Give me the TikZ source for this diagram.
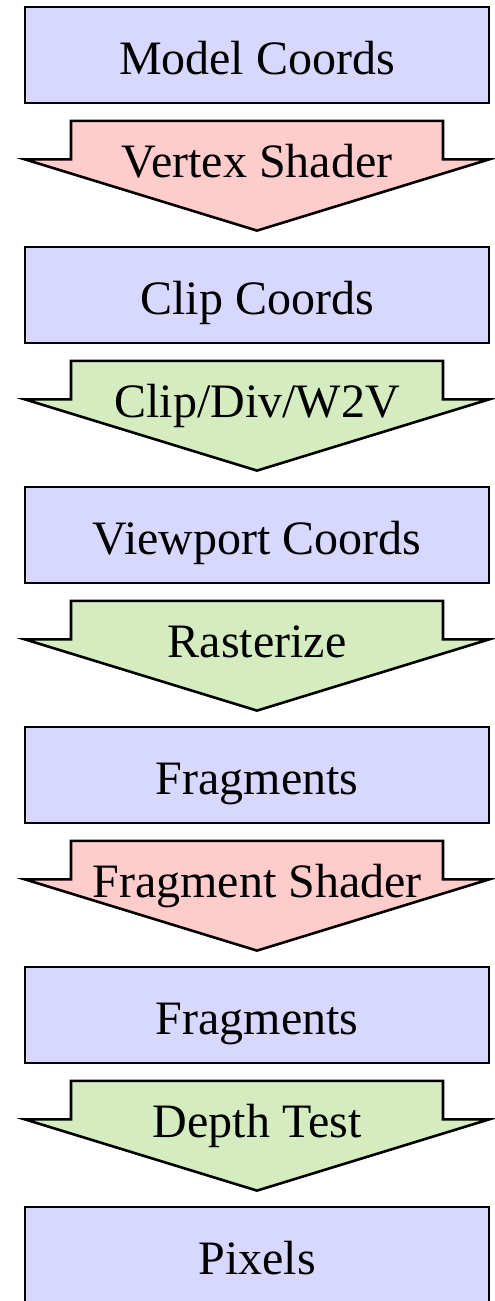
\documentclass[tikz,border=0pt]{standalone}
\usepackage{fontspec}
\setmainfont{Liberation Serif}
\usetikzlibrary{calc}
\definecolor{stagefill}{RGB}{216,216,255}
\definecolor{shaderfill}{RGB}{255,204,204}
\definecolor{fixedfill}{RGB}{213,235,192}
\tikzset{
  stage/.style={draw=black, line width=2.8pt, fill=stagefill,
    minimum width=464pt, minimum height=96pt, inner sep=0pt,
    text height=38pt, text depth=0pt, font=\fontsize{48}{58}\selectfont},
  flow/.style={draw=black, line width=2.6pt, line join=miter},
  flowlabel/.style={anchor=base, inner sep=0pt, font=\fontsize{48}{58}\selectfont},
}
\begin{document}
\begin{tikzpicture}[x=1pt,y=-1pt]
\useasboundingbox (0,0) rectangle (495,1301);
% pipeline stages
\foreach \i/\txt in {0/Model Coords,1/Clip Coords,2/Viewport Coords,3/Fragments,4/Fragments,5/Pixels}
  \node[stage] (b\i) at (257,{55+240*\i}) {\txt};
% block arrows between stages
\foreach \i/\j/\col/\txt in {0/1/shaderfill/Vertex Shader,
                             1/2/fixedfill/{Clip/Div/W2V},
                             2/3/fixedfill/Rasterize,
                             3/4/shaderfill/Fragment Shader,
                             4/5/fixedfill/Depth Test}
{
  \coordinate (t\i) at ($(b\i.south)+(0,16.5)$);
  \coordinate (p\i) at ($(b\j.north)+(0,-15)$);
  \draw[flow, fill=\col]
    ($(t\i)+(-186,0)$) -- ($(t\i)+(186,0)$) -- ($(t\i)+(186,38.5)$)
    -- ($(t\i)+(232,38.5)$) -- (p\i) -- ($(t\i)+(-232,38.5)$)
    -- ($(t\i)+(-186,38.5)$) -- cycle;
  \node[flowlabel] (a\i) at ($(t\i)+(0,57)$) {\txt};
}
\end{tikzpicture}
\end{document}
